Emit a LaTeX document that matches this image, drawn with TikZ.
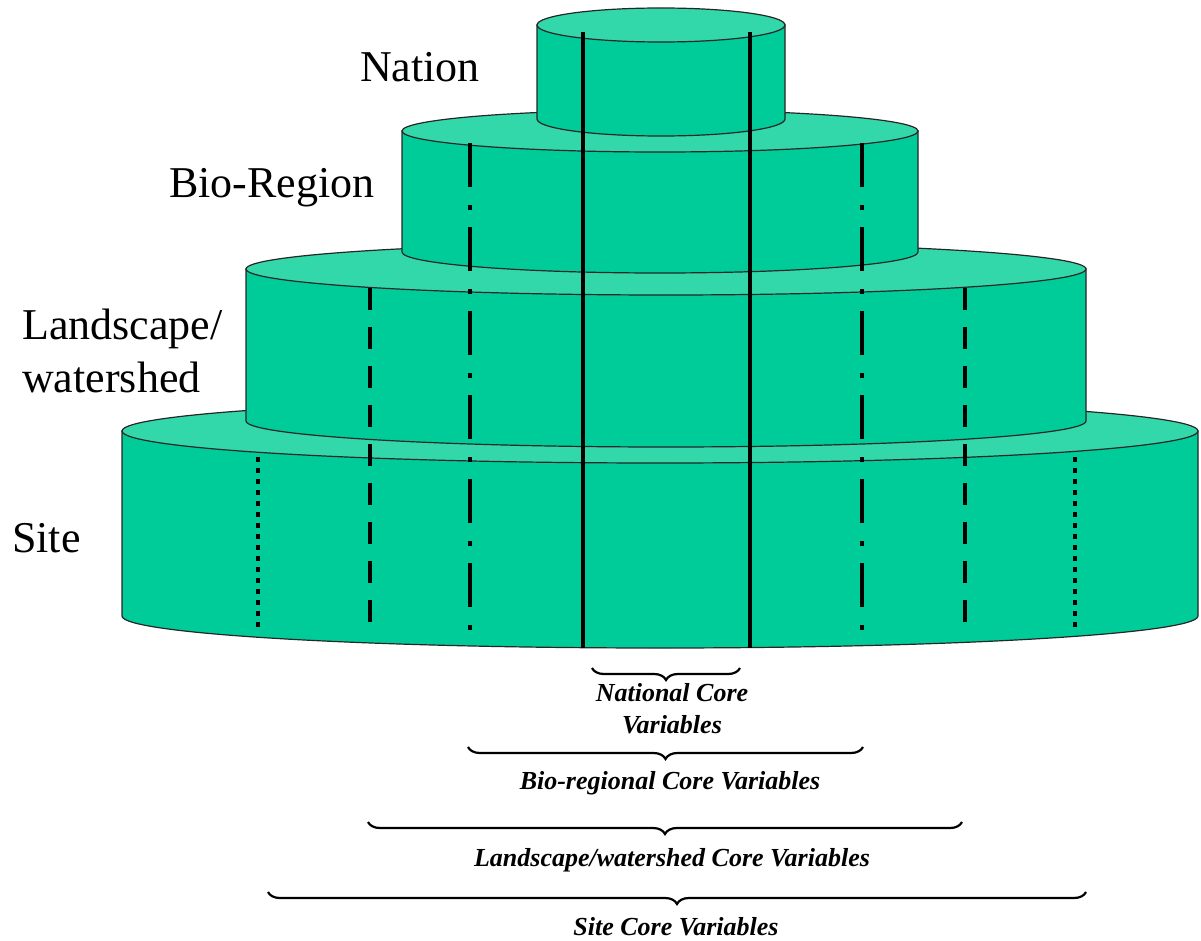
\documentclass[tikz,border=0pt]{standalone}
\usepackage{fontspec}
\setmainfont{Liberation Serif}
\usetikzlibrary{decorations.pathreplacing}
\definecolor{tierside}{HTML}{00CC99}
\definecolor{tiertop}{HTML}{33D8AA}
\tikzset{
   tier/.style={draw=black!85, line width=1.2pt},
   cut/.style={line width=4.5pt},
   solidcut/.style={cut},
   dashdotcut/.style={cut, dash pattern=on 44pt off 18pt on 5pt off 17pt},
   dashcut/.style={cut, dash pattern=on 22pt off 17pt},
   dotcut/.style={cut, dash pattern=on 5pt off 6pt},
   levellabel/.style={font=\fontsize{44}{53}\selectfont, inner sep=0pt},
   corebrace/.style={decorate, decoration={brace, mirror, amplitude=12pt}, line width=2.2pt},
   corelabel/.style={font=\fontsize{26}{32}\selectfont\bfseries\itshape, align=center, inner sep=0pt}
}
\begin{document}
\begin{tikzpicture}[x=1pt, y=1pt]
   \useasboundingbox (0,0) rectangle (1201,-941);
   \def \Tiers {
      site/660/538/431/616/32,
      land/666/420/269/421/26,
      bio/660/258/131/252/21,
      nation/661/124/25/119/17}
   \def \Cuts {
      solidcut/583/32/648,
      solidcut/750/32/648,
      dashdotcut/470/143/632,
      dashdotcut/862/143/632,
      dashcut/370/288/625,
      dashcut/965/288/625,
      dotcut/258/457/632,
      dotcut/1075/457/632}
   \def \Braces {
      national/592/740/668,
      bioregional/468/863/747,
      landscape/368/962/822,
      site/268/1086/892}
   \foreach \t / \cx / \rx / \yt / \yb / \ry in \Tiers {
      \path[tier, fill=tierside] (\cx-\rx, -\yt) -- (\cx-\rx, -\yb)
         arc[start angle=180, end angle=360, x radius=\rx, y radius=\ry]
         -- (\cx+\rx, -\yt) -- cycle;
      \path[tier, fill=tiertop] (\cx, -\yt) ellipse [x radius=\rx, y radius=\ry];
   }
   \foreach \s / \x / \ya / \yb in \Cuts {
      \draw[\s] (\x, -\ya) -- (\x, -\yb);
   }
   \node[levellabel] (nation) at (420, -67) {Nation};
   \node[levellabel] (bioregion) at (272, -188) {Bio-Region};
   \node[levellabel, align=left, anchor=west] (landscape) at (22, -351) {Landscape/\\watershed};
   \node[levellabel, anchor=west] (site) at (12, -538) {Site};
   \foreach \b / \xa / \xb / \y in \Braces {
      \coordinate (\b-l) at (\xa, -\y);
      \coordinate (\b-r) at (\xb, -\y);
      \draw[corebrace] (\b-l) -- (\b-r);
   }
   \node[corelabel] (national-text) at (672, -709) {National Core\\Variables};
   \node[corelabel] (bioregional-text) at (670, -783) {Bio-regional Core Variables};
   \node[corelabel] (landscape-text) at (672, -860) {Landscape/watershed Core Variables};
   \node[corelabel] (site-text) at (676, -927) {Site Core Variables};
\end{tikzpicture}
\end{document}
